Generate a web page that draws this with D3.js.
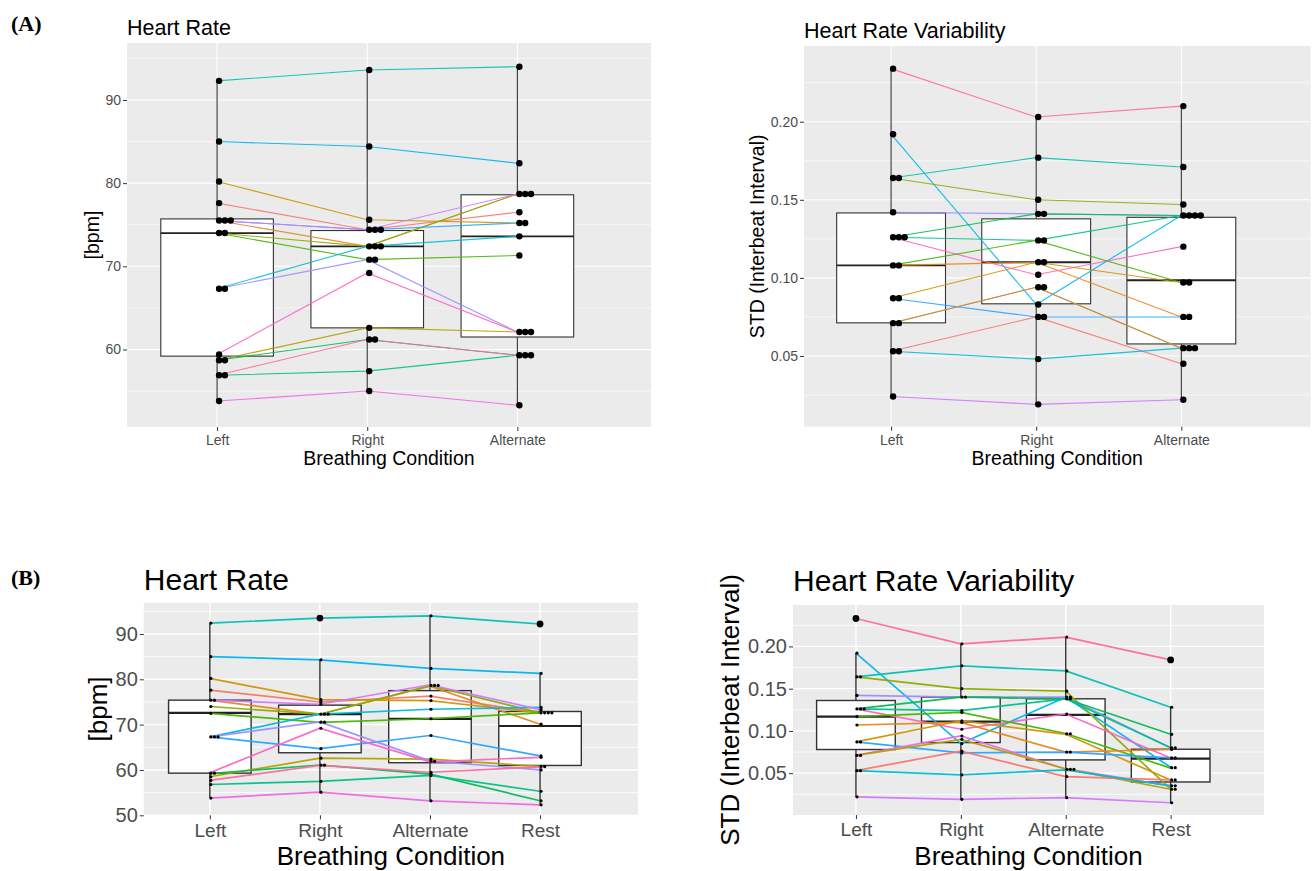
<!DOCTYPE html>
<html><head><meta charset="utf-8">
<script src="https://cdn.jsdelivr.net/npm/d3@7"></script>
<style>
body{margin:0;background:#fff}
svg{display:block}
text{font-family:"Liberation Sans",Arial,sans-serif}
</style>
</head><body>
<svg id="chart" width="1313" height="871"></svg>
<script>
// ---------------- DATA ----------------
const condsA = ["Left", "Right", "Alternate"];
const condsB = ["Left", "Right", "Alternate", "Rest"];

// Panel A – Heart Rate [bpm], one value per subject
const hrA_left  = [77.6, 75.5, 80.2, 58.7, 74.0, 74.0, 58.7, 56.9, 92.3, 67.3, 85.0, 75.5, 67.3, 75.5, 53.8, 59.4, 56.9];
const hrA_right = [74.4, 72.4, 75.6, 62.6, 72.4, 70.8, 61.2, 57.4, 93.6, 72.4, 84.4, 74.4, 70.8, 74.4, 55.0, 69.2, 61.2];
const hrA_alt   = [76.5, 78.7, 75.2, 62.1, 78.7, 71.3, 59.3, 59.3, 94.0, 73.6, 82.4, 75.2, 62.1, 78.7, 53.3, 62.1, 59.3];
const hrA_color = [0, 1, 2, 3, 4, 5, 6, 7, 8, 9, 10, 11, 12, 13, 14, 15, 16];
const hrA_boxLo  = [53.8, 55.0, 53.3];
const hrA_boxQ1  = [59.2, 62.6, 61.5];
const hrA_boxMed = [74.0, 72.4, 73.6];
const hrA_boxQ3  = [75.7, 74.3, 78.6];
const hrA_boxHi  = [92.3, 93.6, 94.0];
const hrA_ticks = [60, 70, 80, 90];
const hrA_minor = [55, 65, 75, 85, 95];

// Panel A – Heart Rate Variability, STD of interbeat interval
const hrvA_left  = [0.234, 0.192, 0.164, 0.164, 0.142, 0.126, 0.126, 0.126, 0.108, 0.108, 0.087, 0.087, 0.071, 0.071, 0.053, 0.053, 0.024];
const hrvA_right = [0.203, 0.083, 0.177, 0.150, 0.141, 0.141, 0.124, 0.102, 0.124, 0.110, 0.110, 0.075, 0.094, 0.094, 0.075, 0.048, 0.019];
const hrvA_alt   = [0.210, 0.140, 0.171, 0.147, 0.140, 0.140, 0.140, 0.120, 0.097, 0.075, 0.097, 0.075, 0.055, 0.055, 0.045, 0.055, 0.022];
const hrvA_color = [16, 10, 8, 4, 12, 6, 7, 15, 5, 1, 2, 11, 14, 3, 0, 9, 13];
const hrvA_boxLo  = [0.0236, 0.0195, 0.0216];
const hrvA_boxQ1  = [0.0712, 0.0834, 0.0577];
const hrvA_boxMed = [0.108, 0.110, 0.0985];
const hrvA_boxQ3  = [0.1416, 0.1378, 0.1388];
const hrvA_boxHi  = [0.234, 0.2028, 0.2099];
const hrv_ticks = [0.05, 0.10, 0.15, 0.20];
const hrv_minor = [0.025, 0.075, 0.125, 0.175, 0.225];

// Panel B – Heart Rate [bpm] incl. Rest
const hrB_left  = [77.6, 75.4, 80.2, 58.5, 74.0, 72.5, 59.2, 56.8, 92.4, 67.3, 85.0, 67.3, 67.3, 75.4, 53.8, 59.4, 57.7];
const hrB_right = [75.0, 72.3, 75.5, 62.6, 72.3, 70.5, 61.1, 57.5, 93.5, 72.3, 84.3, 64.7, 70.6, 74.5, 55.1, 69.2, 61.0];
const hrB_alt   = [76.3, 78.5, 75.3, 62.4, 78.6, 71.3, 59.1, 58.8, 94.0, 73.4, 82.4, 67.6, 62.0, 78.8, 53.2, 61.8, 59.5];
const hrB_rest  = [72.6, 70.1, 72.6, 60.8, 72.6, 72.6, 53.2, 55.3, 92.2, 73.8, 81.3, 63.1, 60.0, 73.3, 52.3, 62.8, 60.7];
const hrB_color = [0, 1, 2, 3, 4, 5, 6, 7, 8, 9, 10, 11, 12, 13, 14, 15, 16];
const hrB_boxLo  = [53.8, 55.1, 53.2, 52.3];
const hrB_boxQ1  = [59.3, 63.8, 61.6, 61.0];
const hrB_boxMed = [72.6, 72.3, 71.25, 69.7];
const hrB_boxQ3  = [75.4, 74.3, 77.5, 72.9];
const hrB_boxHi  = [92.4, 84.3, 94.0, 81.3];
const hrB_outCond = [2, 4];
const hrB_outVal  = [93.5, 92.2];
const hrB_ticks = [50, 60, 70, 80, 90];
const hrB_minor = [55, 65, 75, 85, 95];

// Panel B – Heart Rate Variability incl. Rest
const hrvB_left  = [0.233, 0.192, 0.164, 0.164, 0.142, 0.126, 0.126, 0.126, 0.117, 0.107, 0.087, 0.087, 0.071, 0.071, 0.053, 0.053, 0.022];
const hrvB_right = [0.203, 0.085, 0.177, 0.150, 0.140, 0.140, 0.124, 0.102, 0.122, 0.110, 0.112, 0.074, 0.094, 0.090, 0.076, 0.048, 0.019];
const hrvB_alt   = [0.211, 0.140, 0.171, 0.147, 0.140, 0.138, 0.138, 0.120, 0.097, 0.075, 0.096, 0.075, 0.055, 0.055, 0.046, 0.054, 0.021];
const hrvB_rest  = [0.184, 0.057, 0.128, 0.031, 0.080, 0.096, 0.080, 0.068, 0.056, 0.078, 0.042, 0.068, 0.035, 0.031, 0.042, 0.035, 0.015];
const hrvB_color = [16, 10, 8, 4, 12, 6, 7, 15, 5, 1, 2, 11, 14, 3, 0, 9, 13];
const hrvB_boxLo  = [0.0222, 0.019, 0.021, 0.0151];
const hrvB_boxQ1  = [0.078, 0.0862, 0.0657, 0.0396];
const hrvB_boxMed = [0.117, 0.111, 0.119, 0.0672];
const hrvB_boxQ3  = [0.136, 0.140, 0.138, 0.0783];
const hrvB_boxHi  = [0.192, 0.203, 0.211, 0.128];
const hrvB_outCond = [1, 4];
const hrvB_outVal  = [0.233, 0.184];

// ---------------- COLOURS (ggplot2 hue palette, polar CIE-LUV) ----------------
function hclLuv(h, c, l) {
  const Xn = 95.047, Yn = 100.0, Zn = 108.883;
  const hr = h * Math.PI / 180;
  const U = c * Math.cos(hr), V = c * Math.sin(hr);
  const Y = l > 8 ? Yn * Math.pow((l + 16) / 116, 3) : Yn * l / 903.3;
  const den = Xn + 15 * Yn + 3 * Zn;
  const un = 4 * Xn / den, vn = 9 * Yn / den;
  const up = U / (13 * l) + un, vp = V / (13 * l) + vn;
  const X = 9 * Y * up / (4 * vp);
  const Z = -X / 3 - 5 * Y + 3 * Y / vp;
  const x = X / 100, y = Y / 100, z = Z / 100;
  const lin = [
    3.240479 * x - 1.537150 * y - 0.498535 * z,
    -0.969256 * x + 1.875992 * y + 0.041556 * z,
    0.055648 * x - 0.204043 * y + 1.057311 * z
  ];
  const g = t => { t = Math.max(0, Math.min(1, t)); return t <= 0.0031308 ? 12.92 * t : 1.055 * Math.pow(t, 1 / 2.4) - 0.055; };
  return d3.rgb(g(lin[0]) * 255, g(lin[1]) * 255, g(lin[2]) * 255).formatHex();
}
const palette = d3.range(17).map(i => hclLuv(15 + i * 360 / 17, 100, 65));
const svg = d3.select("#chart");
const FONT = '"Liberation Sans",Arial,sans-serif';

function drawPanel(o) {
  const n = o.cats.length;
  const x = d3.scaleLinear().domain([0.4, n + 0.89]).range([o.x0, o.x1]);
  const y = d3.scaleLinear().domain(o.yDomain).range([o.y1, o.y0]);
  const g = svg.append("g");

  g.append("rect").attr("x", o.x0).attr("y", o.y0)
    .attr("width", o.x1 - o.x0).attr("height", o.y1 - o.y0).attr("fill", "#EBEBEB");

  g.append("g").selectAll("line").data(o.minor).join("line")
    .attr("x1", o.x0).attr("x2", o.x1)
    .attr("y1", d => y(d)).attr("y2", d => y(d))
    .attr("stroke", "#fff").attr("stroke-width", o.minorW);
  g.append("g").selectAll("line").data(o.ticks).join("line")
    .attr("x1", o.x0).attr("x2", o.x1)
    .attr("y1", d => y(d)).attr("y2", d => y(d))
    .attr("stroke", "#fff").attr("stroke-width", o.majorW);
  g.append("g").selectAll("line").data(d3.range(1, n + 1)).join("line")
    .attr("x1", d => x(d)).attr("x2", d => x(d))
    .attr("y1", o.y0).attr("y2", o.y1)
    .attr("stroke", "#fff").attr("stroke-width", o.majorW);

  // boxplots
  const hw = 0.375;
  const boxes = d3.range(n).map(i => ({i, lo: o.lo[i], q1: o.q1[i], med: o.med[i], q3: o.q3[i], hi: o.hi[i]}));
  const bg = g.append("g");
  boxes.forEach(b => {
    const cx = x(b.i + 1);
    bg.append("line").attr("x1", cx).attr("x2", cx).attr("y1", y(b.hi)).attr("y2", y(b.q3))
      .attr("stroke", "#333").attr("stroke-width", o.boxW);
    bg.append("line").attr("x1", cx).attr("x2", cx).attr("y1", y(b.q1)).attr("y2", y(b.lo))
      .attr("stroke", "#333").attr("stroke-width", o.boxW);
    bg.append("rect").attr("x", x(b.i + 1 - hw)).attr("y", y(b.q3))
      .attr("width", x(b.i + 1 + hw) - x(b.i + 1 - hw)).attr("height", y(b.q1) - y(b.q3))
      .attr("fill", "#fff").attr("stroke", "#333").attr("stroke-width", o.boxW);
    bg.append("line").attr("x1", x(b.i + 1 - hw)).attr("x2", x(b.i + 1 + hw))
      .attr("y1", y(b.med)).attr("y2", y(b.med))
      .attr("stroke", "#222").attr("stroke-width", o.medW);
  });

  // subject lines
  const nSub = o.series[0].length;
  const line = d3.line().x(d => x(d[0])).y(d => y(d[1]));
  const subjects = d3.range(nSub).map(s => o.series.map((arr, i) => [i + 1, arr[s]]));
  g.append("g").selectAll("path").data(subjects).join("path")
    .attr("d", line).attr("fill", "none")
    .attr("stroke", (d, s) => palette[o.colors[s]])
    .attr("stroke-width", o.lineW).attr("stroke-opacity", o.lineOp);

  // dot stacks
  const dots = [];
  o.series.forEach((arr, i) => {
    const sorted = arr.slice().sort((a, b) => a - b);
    const bins = [];
    sorted.forEach(v => {
      const last = bins[bins.length - 1];
      if (last && v - last[0] < o.binW) last.push(v); else bins.push([v]);
    });
    bins.forEach(b => {
      const c = (b[0] + b[b.length - 1]) / 2;
      b.forEach((v, k) => dots.push({px: x(i + 1) + o.dotOff + k * o.dotStep, v: c}));
    });
  });
  g.append("g").selectAll("circle").data(dots).join("circle")
    .attr("cx", d => d.px).attr("cy", d => y(d.v)).attr("r", o.dotR).attr("fill", "#000");

  // outliers
  if (o.outCond) {
    g.append("g").selectAll("circle").data(o.outCond.map((c, k) => ({c, v: o.outVal[k]}))).join("circle")
      .attr("cx", d => x(d.c)).attr("cy", d => y(d.v)).attr("r", o.outR).attr("fill", "#000");
  }

  // axes
  const ya = d3.axisLeft(y).tickValues(o.ticks).tickFormat(o.fmt).tickSize(o.tickLen).tickSizeOuter(0).tickPadding(o.tickPad);
  const yg = g.append("g").attr("transform", `translate(${o.x0},0)`).call(ya);
  yg.select(".domain").remove();
  yg.selectAll("line").attr("stroke", "#333");
  yg.selectAll("text").attr("fill", "#4D4D4D").style("font-size", o.tickFs + "px").style("font-family", FONT);

  const xa = d3.axisBottom(x).tickValues(d3.range(1, n + 1)).tickFormat(d => o.cats[d - 1]).tickSize(o.tickLen).tickSizeOuter(0).tickPadding(o.xTickPad);
  const xg = g.append("g").attr("transform", `translate(0,${o.y1})`).call(xa);
  xg.select(".domain").remove();
  xg.selectAll("line").attr("stroke", "#333");
  xg.selectAll("text").attr("fill", "#4D4D4D").style("font-size", o.xTickFs + "px").style("font-family", FONT);

  // titles
  g.append("text").attr("x", o.x0).attr("y", o.titleY).text(o.title)
    .style("font-size", o.titleFs + "px").attr("fill", "#000");
  g.append("text").attr("x", (o.x0 + o.x1) / 2).attr("y", o.xTitleY).attr("text-anchor", "middle")
    .text("Breathing Condition").style("font-size", o.axFs + "px").attr("fill", "#000");
  g.append("text").attr("transform", `translate(${o.yTitleX},${(o.y0 + o.y1) / 2}) rotate(-90)`)
    .attr("text-anchor", "middle").attr("dy", "0.35em")
    .text(o.yTitle).style("font-size", o.axFs + "px").attr("fill", "#000");
}

const styleA = {minorW: 0.6, majorW: 1.1, boxW: 1.1, medW: 1.8, lineW: 1.1, lineOp: 0.9,
  dotR: 3.2, dotStep: 5.8, dotOff: 2, tickLen: 4, tickPad: 2, xTickPad: 4, tickFs: 14, xTickFs: 14,
  titleFs: 21.5, axFs: 19.5};
const styleB = {minorW: 0.8, majorW: 1.4, boxW: 1.4, medW: 2.2, lineW: 1.7, lineOp: 0.95,
  dotR: 1.6, dotStep: 3.6, dotOff: 1, outR: 3.4, tickLen: 4, tickPad: 2, xTickPad: 4, tickFs: 20, xTickFs: 19,
  titleFs: 30, axFs: 26};

drawPanel(Object.assign({}, styleA, {
  cats: condsA, series: [hrA_left, hrA_right, hrA_alt], colors: hrA_color,
  lo: hrA_boxLo, q1: hrA_boxQ1, med: hrA_boxMed, q3: hrA_boxQ3, hi: hrA_boxHi,
  ticks: hrA_ticks, minor: hrA_minor, fmt: d3.format("d"), binW: 0.3,
  x0: 127, x1: 651, y0: 43, y1: 427, yDomain: [50.68, 96.85],
  title: "Heart Rate", titleY: 34.5, xTitleY: 465, yTitle: "[bpm]", yTitleX: 92
}));
drawPanel(Object.assign({}, styleA, {
  cats: condsA, series: [hrvA_left, hrvA_right, hrvA_alt], colors: hrvA_color,
  lo: hrvA_boxLo, q1: hrvA_boxQ1, med: hrvA_boxMed, q3: hrvA_boxQ3, hi: hrvA_boxHi,
  ticks: hrv_ticks, minor: hrv_minor, fmt: d3.format(".2f"), binW: 0.002,
  x0: 804, x1: 1310.5, y0: 46, y1: 426.7, yDomain: [0.0047, 0.2485],
  title: "Heart Rate Variability", titleY: 38, xTitleY: 465, yTitle: "STD (Interbeat Interval)", yTitleX: 757
}));
drawPanel(Object.assign({}, styleB, {
  cats: condsB, series: [hrB_left, hrB_right, hrB_alt, hrB_rest], colors: hrB_color,
  lo: hrB_boxLo, q1: hrB_boxQ1, med: hrB_boxMed, q3: hrB_boxQ3, hi: hrB_boxHi,
  outCond: hrB_outCond, outVal: hrB_outVal,
  ticks: hrB_ticks, minor: hrB_minor, fmt: d3.format("d"), binW: 0.3,
  x0: 143.8, x1: 638, y0: 602.7, y1: 815.3, yDomain: [50.0, 96.9],
  title: "Heart Rate", titleY: 590, xTitleY: 865, yTitle: "[bpm]", yTitleX: 98
}));
drawPanel(Object.assign({}, styleB, {
  cats: condsB, series: [hrvB_left, hrvB_right, hrvB_alt, hrvB_rest], colors: hrvB_color,
  lo: hrvB_boxLo, q1: hrvB_boxQ1, med: hrvB_boxMed, q3: hrvB_boxQ3, hi: hrvB_boxHi,
  outCond: hrvB_outCond, outVal: hrvB_outVal,
  ticks: hrv_ticks, minor: hrv_minor, fmt: d3.format(".2f"), binW: 0.002,
  x0: 793, x1: 1264, y0: 605, y1: 815, yDomain: [0.0005, 0.249],
  title: "Heart Rate Variability", titleY: 591, xTitleY: 865, yTitle: "STD (Interbeat Interval)", yTitleX: 729.5
}));

// panel letters
svg.append("text").attr("x", 11).attr("y", 31).text("(A)")
  .style("font-family", '"Liberation Serif","Times New Roman",serif').style("font-weight", "bold").style("font-size", "22px");
svg.append("text").attr("x", 11).attr("y", 585).text("(B)")
  .style("font-family", '"Liberation Serif","Times New Roman",serif').style("font-weight", "bold").style("font-size", "22px");
</script>
</body></html>
